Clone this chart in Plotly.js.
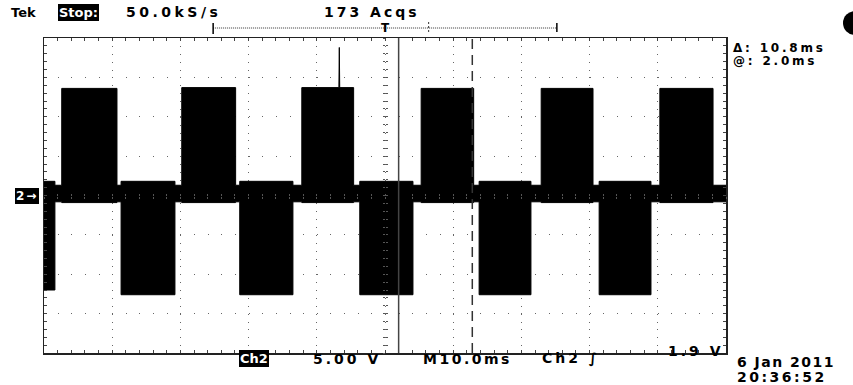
<!DOCTYPE html>
<html>
<head>
<meta charset="utf-8">
<script src="https://cdn.plot.ly/plotly-3.0.1.min.js"></script>
<style>
html,body{margin:0;padding:0;background:#fff;}
#chart{width:853px;height:385px;}
</style>
</head>
<body>
<div id="chart"></div>
<script>
// ---- data (time in ms, volts on Ch2) ----
const highStart = [-47.4, -29.8, -12.2, 5.3, 22.9, 40.3];
const highEnd   = [-39.3, -21.9, -4.6, 13.0, 30.5, 48.1];
const highTop   = [13.6, 13.7, 13.7, 13.6, 13.6, 13.6];
const highFloor = -0.9;
const lowStart  = [-50.0, -38.7, -21.3, -3.7, 13.8, 31.4];
const lowEnd    = [-48.4, -30.8, -13.5, 4.1, 21.4, 39.0];
const lowBottom = [-12.0, -12.6, -12.6, -12.6, -12.6, -12.6];
const lowCeil   = 1.8;
const bandTop = 1.3, bandBottom = -0.8;
const spikeT = [-6.7];
const spikeV = [18.8];
const cursorA = 2.0;      // @: 2.0ms
const cursorDelta = 10.8; // Δ: 10.8ms
const recordWindow = [-25.2, 25.2];
const triggerT = 0.0;
const markT = 6.4;
const timeRange = [-50, 50];
const voltRange = [-20, 20];

// ---- build envelope ----
const bursts = [];
highStart.forEach((s, i) => bursts.push({s: s, e: highEnd[i], top: highTop[i], bot: highFloor}));
lowStart.forEach((s, i) => bursts.push({s: s, e: lowEnd[i], top: lowCeil, bot: lowBottom[i]}));
bursts.sort((a, b) => a.s - b.s);
const tt = [], up = [], lo = [];
function pushPt(t, u, l) { tt.push(t); up.push(u); lo.push(l); }
let cur = timeRange[0];
bursts.forEach(b => {
  if (b.s > cur) { pushPt(cur, bandTop, bandBottom); pushPt(b.s, bandTop, bandBottom); }
  pushPt(b.s, b.top, b.bot);
  spikeT.forEach((st, k) => {
    if (st > b.s && st < b.e) {
      pushPt(st - 0.06, b.top, b.bot);
      pushPt(st, spikeV[k], b.bot);
      pushPt(st + 0.06, b.top, b.bot);
    }
  });
  pushPt(b.e, b.top, b.bot);
  cur = b.e;
});
if (cur < timeRange[1]) { pushPt(cur, bandTop, bandBottom); pushPt(timeRange[1], bandTop, bandBottom); }

// ---- geometry helpers (pixel -> paper) ----
const L = 44, R = 726, T = 38, B = 353;
const W = R - L, H = B - T;
const px = x => (x - L) / W;
const py = y => (B - y) / H;

const FONT = 'DejaVu Sans, Verdana, sans-serif';
function txt(text, x, y, opts) {
  opts = opts || {};
  return Object.assign({
    text: text, xref: 'paper', yref: 'paper', x: px(x), y: py(y),
    xanchor: 'left', yanchor: 'middle', showarrow: false,
    font: {family: FONT, size: 14, color: '#000', weight: 700},
    borderpad: 0, borderwidth: 0
  }, opts);
}
const sp = (s, n) => '<span style="letter-spacing:' + n + 'px">' + s + '</span>';

const traces = [
  {type: 'scatter', mode: 'lines', x: tt, y: up, line: {color: '#000', width: 1},
   hoverinfo: 'skip', showlegend: false},
  {type: 'scatter', mode: 'lines', x: tt, y: lo, line: {color: '#000', width: 1},
   fill: 'tonexty', fillcolor: '#000', hoverinfo: 'skip', showlegend: false},
  {type: 'scatter', x: [null], y: [null], xaxis: 'x2', yaxis: 'y2', hoverinfo: 'skip', showlegend: false},
  {type: 'scatter', x: [null], y: [null], xaxis: 'x3', yaxis: 'y3', hoverinfo: 'skip', showlegend: false}
];

const baseX = {
  range: timeRange, dtick: 10, tick0: 0, showticklabels: false, zeroline: false,
  fixedrange: true
};
const baseY = {
  range: voltRange, dtick: 5, tick0: 0, showticklabels: false, zeroline: false,
  fixedrange: true
};

const layout = {
  width: 853, height: 385,
  margin: {l: L, r: 853 - R, t: T, b: 385 - B, pad: 0},
  paper_bgcolor: '#fff', plot_bgcolor: '#fff',
  showlegend: false,
  xaxis: Object.assign({}, baseX, {
    showgrid: true, gridcolor: '#666', gridwidth: 1, griddash: '1px,6.875px',
    showline: true, linecolor: '#222', linewidth: 1.5, mirror: 'allticks',
    ticks: 'inside', ticklen: 3, tickcolor: '#444', tickwidth: 1,
    minor: {dtick: 2, tick0: 0, ticks: 'inside', ticklen: 3, tickcolor: '#444', showgrid: false}
  }),
  yaxis: Object.assign({}, baseY, {
    showgrid: true, gridcolor: '#666', gridwidth: 1, griddash: '1px,12.64px',
    showline: true, linecolor: '#222', linewidth: 1.5, mirror: 'allticks',
    ticks: 'inside', ticklen: 3, tickcolor: '#444', tickwidth: 1,
    minor: {dtick: 1, tick0: 0, ticks: 'inside', ticklen: 3, tickcolor: '#444', showgrid: false}
  }),
  xaxis2: Object.assign({}, baseX, {
    overlaying: 'x', anchor: 'free', position: 0.5, showgrid: false, showline: false,
    ticks: 'outside', ticklen: 2, tickcolor: '#555',
    minor: {dtick: 2, tick0: 0, ticks: 'outside', ticklen: 2, tickcolor: '#555', showgrid: false}
  }),
  xaxis3: Object.assign({}, baseX, {
    overlaying: 'x', anchor: 'free', position: 0.5, showgrid: false, showline: false,
    ticks: 'inside', ticklen: 2, tickcolor: '#555',
    minor: {dtick: 2, tick0: 0, ticks: 'inside', ticklen: 2, tickcolor: '#555', showgrid: false}
  }),
  yaxis2: Object.assign({}, baseY, {
    overlaying: 'y', anchor: 'free', position: 0.5, showgrid: false, showline: false,
    ticks: 'outside', ticklen: 2, tickcolor: '#555',
    minor: {dtick: 1, tick0: 0, ticks: 'outside', ticklen: 2, tickcolor: '#555', showgrid: false}
  }),
  yaxis3: Object.assign({}, baseY, {
    overlaying: 'y', anchor: 'free', position: 0.5, showgrid: false, showline: false,
    ticks: 'inside', ticklen: 2, tickcolor: '#555',
    minor: {dtick: 1, tick0: 0, ticks: 'inside', ticklen: 2, tickcolor: '#555', showgrid: false}
  }),
  shapes: [
    // cursors
    {type: 'line', xref: 'x', yref: 'paper', x0: cursorA, x1: cursorA, y0: 0, y1: 1,
     line: {color: '#444', width: 1.5}},
    {type: 'line', xref: 'x', yref: 'paper', x0: cursorA + cursorDelta, x1: cursorA + cursorDelta, y0: 0, y1: 1,
     line: {color: '#333', width: 1.5, dash: '10px,6px'}},
    // record window bracket
    {type: 'line', xref: 'x', yref: 'paper', x0: recordWindow[0], x1: recordWindow[1], y0: py(28), y1: py(28),
     line: {color: '#333', width: 1, dash: '1px,1px'}},
    {type: 'line', xref: 'x', yref: 'paper', x0: recordWindow[0], x1: recordWindow[0], y0: py(23), y1: py(34),
     line: {color: '#000', width: 1.5}},
    {type: 'line', xref: 'x', yref: 'paper', x0: recordWindow[1], x1: recordWindow[1], y0: py(23), y1: py(32),
     line: {color: '#000', width: 1.5}},
    {type: 'line', xref: 'x', yref: 'paper', x0: markT, x1: markT, y0: py(22), y1: py(33),
     line: {color: '#333', width: 1, dash: '2px,2px'}},
    // status lamp
    {type: 'circle', xref: 'paper', yref: 'paper', x0: px(843), x1: px(867), y0: py(35), y1: py(11),
     fillcolor: '#000', line: {color: '#000', width: 0}}
  ],
  annotations: [
    txt('Tek', 11, 12, {font: {family: FONT, size: 13, color: '#000', weight: 700}}),
    txt('Stop:', 58, 12, {bgcolor: '#000', font: {family: FONT, size: 13, color: '#fff', weight: 700}, borderpad: 1}),
    txt(sp('50.0kS/s', 3.5), 126, 12),
    txt(sp('173 Acqs', 3), 324, 12),
    txt('T', 380, 28, {xref: 'x', x: triggerT, xanchor: 'center', font: {family: FONT, size: 12, color: '#000', weight: 700}}),
    txt(sp('Δ: 10.8ms', 2.8), 733, 54.5, {yanchor: 'bottom', font: {family: FONT, size: 12, color: '#000', weight: 700}}),
    txt(sp('@: 2.0ms', 2.8), 733, 54, {yanchor: 'top', font: {family: FONT, size: 12, color: '#000', weight: 700}}),
    txt(sp('2→', 2), 15, 196, {yref: 'y', y: 0, bgcolor: '#000', font: {family: FONT, size: 12, color: '#fff', weight: 700}, borderpad: 1}),
    txt('Ch2', 239, 358.5, {bgcolor: '#000', font: {family: FONT, size: 13, color: '#fff', weight: 700}, borderpad: 1}),
    txt(sp('5.00 V', 3), 313, 358.5),
    txt(sp('M10.0ms', 2.5), 423, 358.5),
    txt(sp('Ch2 ∫', 3), 542, 358.5),
    txt(sp('1.9 V', 3), 668, 351),
    txt(sp('6 Jan 2011', 1.5), 737, 362),
    txt(sp('20:36:52', 2.5), 737, 376.5)
  ]
};

Plotly.newPlot('chart', traces, layout, {staticPlot: true, displayModeBar: false});
</script>
</body>
</html>
